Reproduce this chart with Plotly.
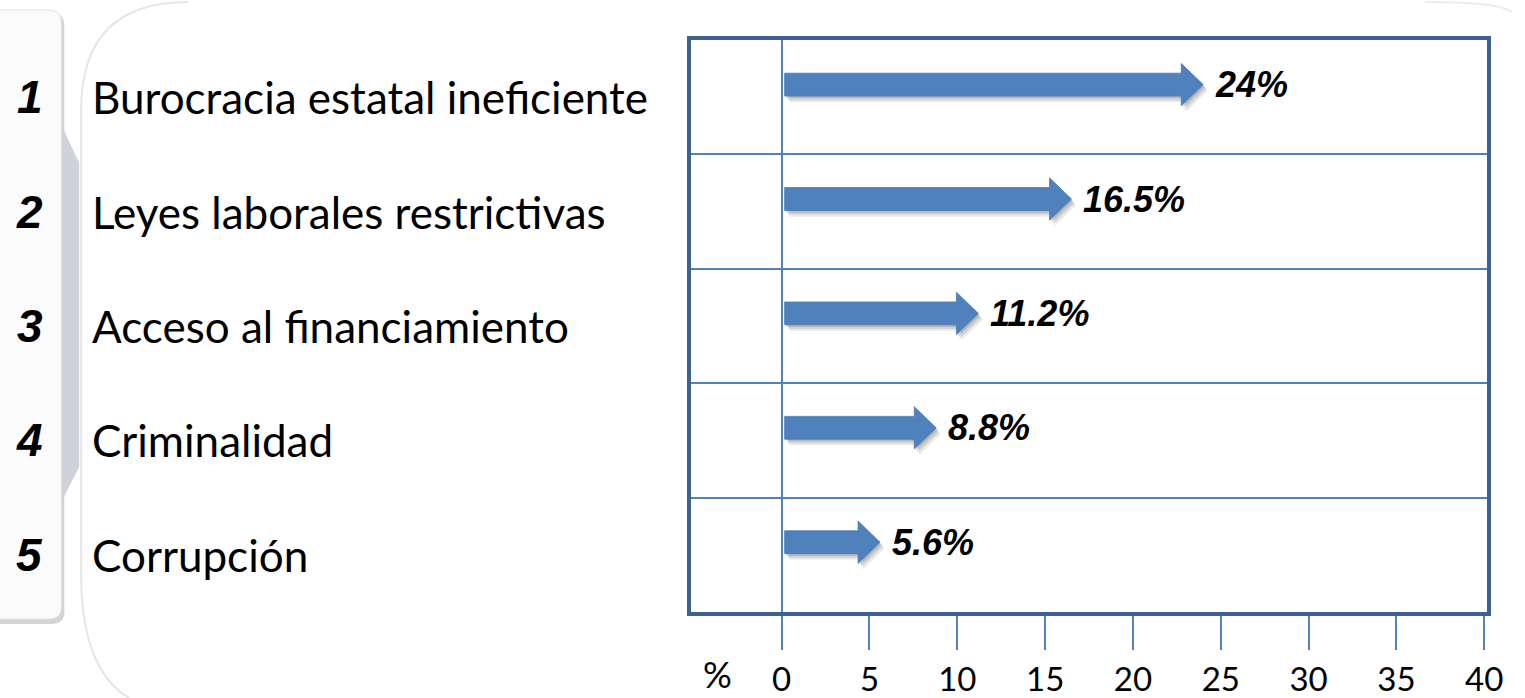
import plotly.graph_objects as go

# ---- data ----
ranks = ["1", "2", "3", "4", "5"]
categories = [
    "Burocracia estatal ineficiente",
    "Leyes laborales restrictivas",
    "Acceso al financiamiento",
    "Criminalidad",
    "Corrupción",
]
values = [24, 16.5, 11.2, 8.8, 5.6]
x_ticks = [0, 5, 10, 15, 20, 25, 30, 35, 40]
axis_unit = "%"

# ---- style ----
W, H = 1525, 698
PX0, PX1 = 698, 1503   # plot area pixels (x)
PY0, PY1 = 40, 612     # plot area pixels (y, from top)
XR = [-5.18, 40.17]
BLUE = "#4F81BD"
DARK = "#3D6190"
LABEL_FONT = "Lato, Open Sans, sans-serif"
VALUE_FONT = "Liberation Sans, Arial"

rows = list(range(1, len(categories) + 1))
arrow_off = -0.11
x0 = 0.17
head_len = 1.25
shaft_h = 0.10
head_h = 0.185

fig = go.Figure()


def arrow_poly(tip, yc, dx=0.0, dy=0.0):
    xs = [x0, tip - head_len, tip - head_len, tip, tip - head_len, tip - head_len, x0, x0]
    ys = [yc - shaft_h, yc - shaft_h, yc - head_h, yc, yc + head_h, yc + shaft_h, yc + shaft_h, yc - shaft_h]
    return [x + dx for x in xs], [y + dy for y in ys]


# shadows
for r, v in zip(rows, values):
    yc = r + arrow_off
    for k, op in [(3, 0.10), (2, 0.14), (1, 0.18)]:
        xs, ys = arrow_poly(v, yc, dx=0.09 * k, dy=0.018 * k)
        fig.add_trace(go.Scatter(x=xs, y=ys, fill="toself", mode="lines",
                                 line=dict(width=0), fillcolor=f"rgba(60,60,60,{op})",
                                 hoverinfo="skip", showlegend=False))
# arrows
for r, v in zip(rows, values):
    xs, ys = arrow_poly(v, r + arrow_off)
    fig.add_trace(go.Scatter(x=xs, y=ys, fill="toself", mode="lines",
                             line=dict(width=0.8, color="#4A7AB5"), fillcolor=BLUE,
                             hoverinfo="skip", showlegend=False))

# value labels
for r, v in zip(rows, values):
    fig.add_annotation(x=v, y=r + arrow_off, xref="x", yref="y", text=f"{v:g}%",
                       showarrow=False, xanchor="left", yanchor="middle", xshift=10,
                       font=dict(family=VALUE_FONT, size=36, color="black",
                                 weight="bold", style="italic"))

# left list: ranks and category labels
for r, rk, cat in zip(rows, ranks, categories):
    fig.add_annotation(x=45 / W, y=r, xref="paper", yref="y", text=rk, showarrow=False,
                       xanchor="right", yanchor="middle",
                       font=dict(family="Liberation Sans, Arial", size=46, color="black",
                                 weight="bold", style="italic"))
    fig.add_annotation(x=91 / W, y=r, xref="paper", yref="y", text=cat, showarrow=False,
                       xanchor="left", yanchor="middle",
                       font=dict(family=LABEL_FONT, size=44, color="black"))

# axis unit label
fig.add_annotation(x=725 / W, y=1 - 698 / H, xref="paper", yref="paper", text=axis_unit,
                   showarrow=False, xanchor="center", yanchor="bottom",
                   font=dict(family=LABEL_FONT, size=36, color="black"))


def px(x):
    return x / W


def py(y):
    return 1 - y / H


shapes = [
    # faint large rounded card
    dict(type="path", xref="paper", yref="paper",
         path=f"M {px(190)},{py(2)} Q {px(82)},{py(2)} {px(82)},{py(110)} "
              f"L {px(82)},{py(575)} Q {px(82)},{py(698)} {px(165)},{py(710)}",
         line=dict(color="#e6e6e6", width=2), layer="below"),
    dict(type="path", xref="paper", yref="paper",
         path=f"M {px(1440)},{py(2)} Q {px(1515)},{py(2)} {px(1528)},{py(12)}",
         line=dict(color="#ececec", width=2), layer="below"),
    # left panel shadow
    dict(type="path", xref="paper", yref="paper",
         path=f"M {px(-5)},{py(13)} L {px(52)},{py(13)} Q {px(65)},{py(13)} {px(65)},{py(26)} "
              f"L {px(65)},{py(612)} Q {px(65)},{py(624)} {px(52)},{py(624)} L {px(-5)},{py(624)} Z",
         fillcolor="#d4d4d4", line=dict(width=0), layer="below"),
    # left panel
    dict(type="path", xref="paper", yref="paper",
         path=f"M {px(-5)},{py(10)} L {px(50)},{py(10)} Q {px(62)},{py(10)} {px(62)},{py(22)} "
              f"L {px(62)},{py(607)} Q {px(62)},{py(619)} {px(50)},{py(619)} L {px(-5)},{py(619)} Z",
         fillcolor="#fbfbfb", line=dict(color="#e2e2e2", width=1), layer="below"),
    # textured stripe
    dict(type="path", xref="paper", yref="paper",
         path=f"M {px(63)},{py(127)} L {px(80)},{py(163)} L {px(80)},{py(467)} "
              f"L {px(63)},{py(500)} Z",
         fillcolor="#cfd2dc", line=dict(width=0), layer="below"),
]
fig.update_layout(shapes=shapes)

fig.update_xaxes(domain=[PX0 / W, PX1 / W], range=XR, tickmode="array", tickvals=x_ticks,
                 ticktext=[str(t) for t in x_ticks], ticks="outside", ticklen=34,
                 tickcolor=BLUE, tickwidth=1.5, showgrid=False,
                 zeroline=True, zerolinecolor=BLUE, zerolinewidth=1.5,
                 showline=True, linecolor=DARK, linewidth=4, mirror=True,
                 tickfont=dict(family=LABEL_FONT, size=33, color="black"),
                 ticklabelstandoff=1, fixedrange=True)
fig.update_yaxes(domain=[1 - PY1 / H, 1 - PY0 / H], range=[5.5, 0.5],
                 tickmode="array", tickvals=[1.5, 2.5, 3.5, 4.5], showticklabels=False,
                 ticks="", showgrid=True, gridcolor=BLUE, gridwidth=1.5, zeroline=False,
                 showline=True, linecolor=DARK, linewidth=4, mirror=True, fixedrange=True)

fig.update_layout(width=W, height=H, margin=dict(l=0, r=0, t=0, b=0),
                  paper_bgcolor="white", plot_bgcolor="white", showlegend=False)

fig.write_html("out.html", config={"displayModeBar": False},
               post_script="document.body.style.margin='0';document.body.style.overflow='hidden';")
